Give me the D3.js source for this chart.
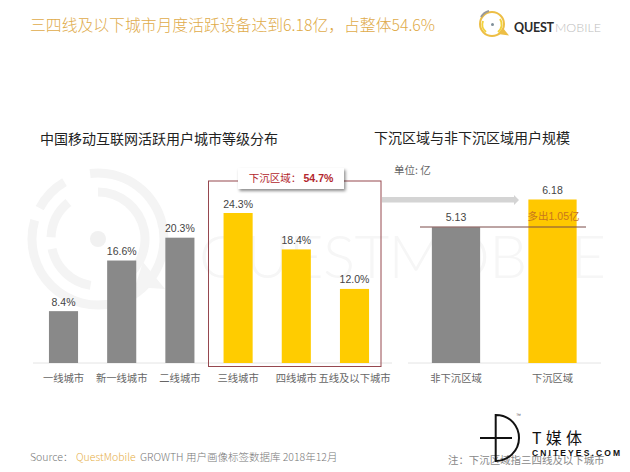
<!DOCTYPE html>
<html><head><meta charset="utf-8">
<script src="https://cdn.jsdelivr.net/npm/d3@7"></script>
<style>html,body{margin:0;padding:0;background:#fff}svg{display:block}
text{font-family:"Liberation Sans","Noto Sans CJK SC",sans-serif}
.cjk{font-family:"Noto Sans CJK SC",sans-serif}</style></head><body>
<script>
const leftCategories=["一线城市","新一线城市","二线城市","三线城市","四线城市","五线及以下城市"];
const leftValues=[8.4,16.6,20.3,24.3,18.4,12.0];
const leftColors=["#898989","#898989","#898989","#FFCC00","#FFCC00","#FFCC00"];
const rightCategories=["非下沉区域","下沉区域"];
const rightValues=[5.13,6.18];
const rightColors=["#898989","#FFC800"];

const svg=d3.select("body").append("svg").attr("width",630).attr("height",472);
const defs=svg.append("defs");
const f=defs.append("filter").attr("id","sh").attr("x","-10%").attr("y","-20%").attr("width","125%").attr("height","160%");
f.append("feDropShadow").attr("dx",1.5).attr("dy",2).attr("stdDeviation",1.5).attr("flood-color","#000").attr("flood-opacity",.45);
function txt(s,x,y,size,fill,anchor,extra){
  const t=svg.append("text").attr("x",x).attr("y",y).attr("font-size",size).attr("fill",fill).attr("text-anchor",anchor||"start").text(s);
  if(extra)extra(t);return t;}
const cjk=t=>t.attr("class","cjk");

// watermark
const wm=svg.append("g");
function arc(cx,cy,r,a0,a1,w){wm.append("path").attr("transform",`translate(${cx},${cy})`).attr("fill","#F4F4F4")
  .attr("d",d3.arc().innerRadius(r-w/2).outerRadius(r+w/2).startAngle(a0).endAngle(a1)());}
arc(98,239,66,-0.12,2.65,9);arc(98,239,66,2.85,5.0,9);arc(98,239,66,5.2,5.75,9);
arc(98,239,47,0.0,2.75,9);arc(98,239,47,3.3,4.5,9);arc(98,239,47,4.75,5.6,9);
wm.append("path").attr("d","M143 262 L165 289 L135 287 Z").attr("fill","#F4F4F4");
svg.append("circle").attr("cx",98).attr("cy",239).attr("r",8).attr("fill","#F1F1F1");
txt("QUESTMOBILE",199,278,60,"#F6F6F6","start",t=>t.style("font-family","Lato").attr("textLength",407).attr("font-weight",300));

// title
txt("三四线及以下城市月度活跃设备达到6.18亿，占整体54.6%",30,31,16,"#E0AB4A","start",t=>cjk(t).attr("font-weight",300).attr("textLength",405).attr("lengthAdjust","spacingAndGlyphs"));
// logo
const lg=svg.append("g").attr("fill","none");
lg.append("circle").attr("cx",492).attr("cy",24).attr("r",12).attr("stroke","#EDBE45").attr("stroke-width",2);
lg.append("path").attr("d","M486 32 A9.5 9.5 0 0 1 483 21").attr("stroke","#F2D23C").attr("stroke-width",2);
lg.append("path").attr("d","M498 32 A9.5 9.5 0 0 0 500 19").attr("stroke","#F2D23C").attr("stroke-width",2);
lg.append("path").attr("d","M481 17 A13 13 0 0 1 489 11").attr("stroke","#999").attr("stroke-width",2);
lg.append("circle").attr("cx",492.5).attr("cy",24.5).attr("r",1.5).attr("fill","#7f8f99");
lg.append("path").attr("d","M498 34 L509 35.5 L503 28").attr("fill","#EDBE45");
txt("QUEST",514,32,12.5,"#2b2b2b","start",t=>t.style("font-family","Lato").attr("font-weight",700).attr("textLength",40));
txt("MOBILE",555,32,12.5,"#bdbdbd","start",t=>t.style("font-family","Lato").attr("font-weight",300).attr("textLength",46));

// headings
txt("中国移动互联网活跃用户城市等级分布",40,144,14,"#222","start",t=>cjk(t));
txt("下沉区域与非下沉区域用户规模",374,143,14,"#222","start",t=>cjk(t));
txt("单位: 亿",394,174,10.5,"#666","start",t=>cjk(t));

const baseY=363;
// left chart
const xL=d3.scaleBand().domain(leftCategories).range([34.4,383.6]).paddingInner(0.5).paddingOuter(0.25);
const yL=d3.scaleLinear().domain([0,24.3]).range([baseY,213]);
svg.append("line").attr("x1",33).attr("x2",392).attr("y1",baseY).attr("y2",baseY).attr("stroke","#E4E4E4");
svg.selectAll(".bl").data(leftValues).join("rect").attr("x",(d,i)=>xL(leftCategories[i])).attr("width",xL.bandwidth())
 .attr("y",d=>yL(d)).attr("height",d=>baseY-yL(d)).attr("fill",(d,i)=>leftColors[i]);
svg.selectAll(".ll").data(leftValues).join("text").attr("text-anchor","middle").attr("font-size",10.5).attr("fill","#444")
 .attr("x",(d,i)=>xL(leftCategories[i])+xL.bandwidth()/2).attr("y",d=>yL(d)-5.5).text(d=>d.toFixed(1)+"%");
svg.selectAll(".lc").data(leftCategories).join("text").attr("class","cjk").attr("text-anchor","middle").attr("font-size",10.3).attr("fill","#666")
 .attr("x",d=>xL(d)+xL.bandwidth()/2).attr("y",382).text(d=>d);

// right chart
const xR=d3.scaleBand().domain(rightCategories).range([407.75,600.75]).paddingInner(0.5).paddingOuter(0.25);
const yR=d3.scaleLinear().domain([0,6.18]).range([baseY,199.5]);
svg.append("line").attr("x1",408).attr("x2",601).attr("y1",baseY).attr("y2",baseY).attr("stroke","#E4E4E4");
svg.selectAll(".br").data(rightValues).join("rect").attr("x",(d,i)=>xR(rightCategories[i])).attr("width",xR.bandwidth())
 .attr("y",d=>yR(d)).attr("height",d=>baseY-yR(d)).attr("fill",(d,i)=>rightColors[i]);
svg.selectAll(".rl").data(rightValues).join("text").attr("text-anchor","middle").attr("font-size",10.5).attr("fill","#444")
 .attr("x",(d,i)=>xR(rightCategories[i])+xR.bandwidth()/2).attr("y",d=>yR(d)-6).text(d=>d.toFixed(2));
svg.selectAll(".rc").data(rightCategories).join("text").attr("class","cjk").attr("text-anchor","middle").attr("font-size",10.3).attr("fill","#666")
 .attr("x",d=>xR(d)+xR.bandwidth()/2).attr("y",382).text(d=>d);

// annotations
svg.append("rect").attr("x",208.5).attr("y",181).attr("width",172.5).attr("height",185.5).attr("fill","none").attr("stroke","#96484F").attr("stroke-width",1);
svg.append("rect").attr("x",238).attr("y",168).attr("width",106).attr("height",21).attr("fill","#fff").attr("filter","url(#sh)");
const lab=svg.append("text").attr("x",291).attr("y",182).attr("text-anchor","middle").attr("font-size",10.5).attr("fill","#B3272D");
lab.append("tspan").attr("class","cjk").text("下沉区域： ");
lab.append("tspan").attr("font-weight",700).text("54.7%");
svg.append("path").attr("d","M382 197 H514 V195 L519 200 L514 205 V202.5 H382 Z").attr("fill","#D4D4D4");
svg.append("line").attr("x1",420).attr("x2",586).attr("y1",227).attr("y2",227).attr("stroke","#7A4A48").attr("stroke-width",1);
txt("多出1.05亿",553.5,220,10.5,"#C8761E","middle");

// footer
const src=svg.append("text").attr("x",30).attr("y",461).attr("font-size",10.5).attr("fill","#777").attr("class","cjk").attr("font-weight",300);
src.append("tspan").text("Source：  ");
src.append("tspan").attr("x",76).attr("fill","#E6B04A").text("QuestMobile");
src.append("tspan").attr("x",140).text("GROWTH 用户画像标签数据库 2018年12月");
txt("注：下沉区域指三四线及以下城市",448,464,10.45,"#888","start",t=>cjk(t));

// T媒体 mark
const tm=svg.append("g").attr("fill","none").attr("stroke","#111").attr("stroke-width",2);
tm.append("path").attr("d","M495.7 415 C511 415 519 427 519 438 C519 451 508 461 495.7 461 Z");
tm.append("path").attr("d","M480 438 H512");
txt("™",516,417,5,"#555");
txt("T媒体",532,444,16,"#111","start",t=>cjk(t).attr("textLength",50));
txt("CNITEYES.COM",532,456,8.5,"#111","start",t=>t.attr("textLength",88).attr("font-weight",700));
</script></body></html>
